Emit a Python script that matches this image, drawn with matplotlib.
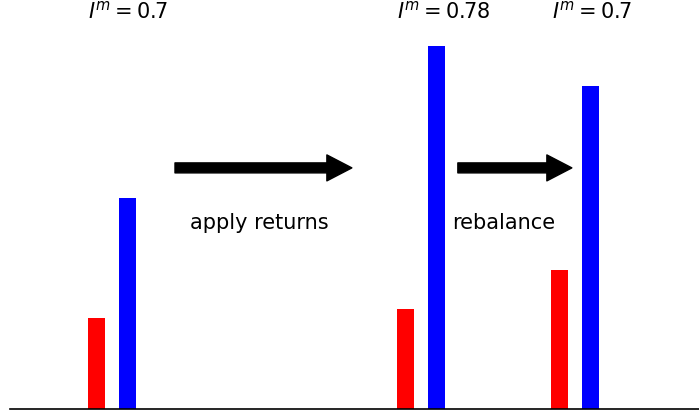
import numpy as np
import matplotlib
matplotlib.use("Agg")
import matplotlib.pyplot as plt

# positions des trois états du portefeuille
positions = [0, 2, 3]
rouge = [0.30, 0.33, 0.46]
bleu = [0.70, 1.20, 1.07]
etiquettes = [r"$I^m = 0.7$", r"$I^m = 0.78$", r"$I^m = 0.7$"]
fleches = [(0.408, 1.553), (2.239, 2.977)]
textes_fleches = ["apply returns", "rebalance"]
x_textes = [0.951, 2.537]

fig = plt.figure(figsize=(6.99, 4.14), dpi=100)
ax = fig.add_axes([10 / 699, 4 / 414, 689 / 699, 410 / 414])

pos = np.array(positions)
ax.bar(pos - 0.1, rouge, width=0.11, color="red")
ax.bar(pos + 0.1, bleu, width=0.11, color="blue")

for p, lab in zip(positions, etiquettes):
    ax.text(p - 0.152, 1.318, lab, ha="left", va="center", fontsize=15)

for (x0, x1), t, xt in zip(fleches, textes_fleches, x_textes):
    ax.annotate("", xy=(x1, 0.798), xytext=(x0, 0.798),
                arrowprops=dict(facecolor="black", edgecolor="black",
                                width=7.2, headwidth=18.7, headlength=18,
                                shrink=0))
    ax.text(xt, 0.619, t, ha="center", va="center", fontsize=15)

ax.set_xlim(-0.66, 3.80)
ax.set_ylim(0, 1.357)
for s in ["top", "left", "right"]:
    ax.spines[s].set_visible(False)
ax.spines["bottom"].set_linewidth(1.2)
ax.set_xticks([])
ax.set_yticks([])

plt.savefig("out.png", dpi=100)
plt.close()
